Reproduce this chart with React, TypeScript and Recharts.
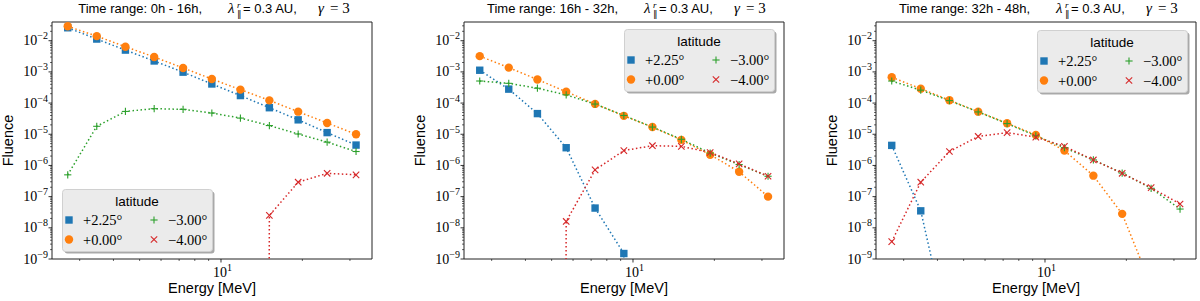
import React from 'react';
import { LineChart, Line, XAxis, YAxis, ReferenceArea } from 'recharts';

// energy bins [MeV], shared by the three panels
const energy = [2.71, 3.47, 4.43, 5.66, 7.24, 9.25, 11.8, 15.1, 19.3, 24.7, 31.6];

// 0h - 16h
const a225 = [2.6e-2, 1.13e-2, 5.0e-3, 2.24e-3, 9.8e-4, 4.1e-4, 1.74e-4, 7.1e-5, 2.9e-5, 1.13e-5, 4.5e-6];
const a000 = [2.9e-2, 1.4e-2, 6.4e-3, 3.0e-3, 1.34e-3, 5.9e-4, 2.7e-4, 1.22e-4, 5.3e-5, 2.3e-5, 1.0e-5];
const am300 = [5.0e-7, 1.8e-5, 5.4e-5, 6.6e-5, 6.3e-5, 4.8e-5, 3.3e-5, 1.9e-5, 1.02e-5, 5.6e-6, 2.8e-6];
const am400 = [0, 0, 0, 0, 0, 0, 0, 2.5e-8, 2.9e-7, 5.6e-7, 5.0e-7];

// 16h - 32h
const b225 = [1.13e-3, 2.8e-4, 4.6e-5, 3.7e-6, 4.3e-8, 1.5e-9, 0, 0, 0, 0, 0];
const b000 = [3.2e-3, 1.37e-3, 5.7e-4, 2.3e-4, 9.4e-5, 3.9e-5, 1.7e-5, 6.6e-6, 2.2e-6, 6.3e-7, 1.0e-7];
const bm300 = [5.1e-4, 4.3e-4, 3.0e-4, 1.83e-4, 9.3e-5, 4.0e-5, 1.7e-5, 6.9e-6, 2.5e-6, 1.07e-6, 4.5e-7];
const bm400 = [0, 0, 0, 1.6e-8, 7.2e-7, 3.0e-6, 4.3e-6, 4.1e-6, 2.6e-6, 1.12e-6, 4.5e-7];

// 32h - 48h
const c225 = [4.4e-6, 3.5e-8, 3e-12, 0, 0, 0, 0, 0, 0, 0, 0];
const c000 = [6.7e-4, 2.9e-4, 1.23e-4, 5.3e-5, 2.25e-5, 9.5e-6, 3.0e-6, 4.7e-7, 2.8e-8, 1.4e-10, 2e-13];
const cm300 = [5.1e-4, 2.6e-4, 1.2e-4, 5.2e-5, 2.2e-5, 8.9e-6, 3.7e-6, 1.5e-6, 5.7e-7, 1.85e-7, 4.0e-8];
const cm400 = [3.6e-9, 2.9e-7, 2.8e-6, 8.5e-6, 1.13e-5, 8.1e-6, 4.1e-6, 1.5e-6, 5.6e-7, 1.95e-7, 5.8e-8];

const titles = ['0h - 16h', '16h - 32h', '32h - 48h'];
const seriesLabels = ['+2.25°', '+0.00°', '\u22123.00°', '\u22124.00°'];
const seriesKeys = ['p225', 'p000', 'm300', 'm400'];
const seriesColors = ['#1f77b4', '#ff7f0e', '#2ca02c', '#d62728'];
const seriesShapes = ['square', 'circle', 'plus', 'cross'];

const xTicks = [3, 4, 5, 6, 7, 8, 9, 10, 20, 30];
const yDecades = [-9, -8, -7, -6, -5, -4, -3, -2];
const minorSteps = [2, 3, 4, 5, 6, 7, 8, 9];

const X_DOMAIN: [number, number] = [2.37, 36.2];
const Y_DOMAIN: [number, number] = [1e-9, 0.0398];
// log axis: zeros are clipped to a tiny positive value, as matplotlib does
const FLOOR = 1e-300;

const yTicks: number[] = [];
yDecades.forEach((d) => {
  yTicks.push(Math.pow(10, d));
  minorSteps.forEach((m) => {
    const v = m * Math.pow(10, d);
    if (v < Y_DOMAIN[1]) yTicks.push(v);
  });
});

const SANS = '"Liberation Sans", Arial, sans-serif';
const SERIF = '"Liberation Serif", "Times New Roman", serif';

const buildRows = (s: number[][]) =>
  energy.map((e, i) => {
    const row: any = { e };
    seriesKeys.forEach((k, j) => {
      row[k] = s[j][i] > 0 ? s[j][i] : FLOOR;
    });
    return row;
  });

const panels = [
  { left: 0, width: 412, rows: buildRows([a225, a000, am300, am400]), legend: { x: 62, y: 189 }, shift: -10 },
  { left: 412, width: 412, rows: buildRows([b225, b000, bm300, bm400]), legend: { x: 212, y: 29 }, shift: -6 },
  { left: 824, width: 376, rows: buildRows([c225, c000, cm300, cm400]), legend: { x: 213, y: 30 }, shift: -6 },
];

const PLOT_LEFT = 52;
const PLOT_W = 320;
const PLOT_TOP = 22;
const PLOT_BOTTOM = 259;

const Marker = ({ shape, color, cx, cy }: any) => {
  if (shape === 'square') return <rect x={cx - 3.7} y={cy - 3.7} width={7.4} height={7.4} fill={color} />;
  if (shape === 'circle') return <circle cx={cx} cy={cy} r={4.2} fill={color} />;
  if (shape === 'plus')
    return (
      <g stroke={color} strokeWidth={1.1}>
        <line x1={cx - 3.6} x2={cx + 3.6} y1={cy} y2={cy} />
        <line x1={cx} x2={cx} y1={cy - 3.6} y2={cy + 3.6} />
      </g>
    );
  return (
    <g stroke={color} strokeWidth={1.1}>
      <line x1={cx - 3.2} x2={cx + 3.2} y1={cy - 3.2} y2={cy + 3.2} />
      <line x1={cx - 3.2} x2={cx + 3.2} y1={cy + 3.2} y2={cy - 3.2} />
    </g>
  );
};

const isMajor = (v: number) => {
  const exp = Math.round(Math.log10(v));
  return Math.abs(v - Math.pow(10, exp)) < v * 1e-6;
};

const XTick = (props: any) => {
  const { x, y, payload } = props;
  const major = isMajor(payload.value);
  const exp = Math.round(Math.log10(payload.value));
  return (
    <g>
      <line x1={x} x2={x} y1={y} y2={y + (major ? 3.5 : 2)} stroke="#000" strokeWidth={major ? 0.8 : 0.6} />
      {major && (
        <text x={x + 1.5} y={y + 17.5} textAnchor="middle" fontFamily={SERIF} fontSize={14} fill="#000">
          10<tspan dy={-6} fontSize={10}>{exp}</tspan>
        </text>
      )}
    </g>
  );
};

const YTick = (props: any) => {
  const { x, y, payload } = props;
  const major = isMajor(payload.value);
  const exp = Math.round(Math.log10(payload.value));
  return (
    <g>
      <line x1={x} x2={x - (major ? 3.5 : 2)} y1={y} y2={y} stroke="#000" strokeWidth={major ? 0.8 : 0.6} />
      {major && (
        <text x={x - 4} y={y + 4.5} textAnchor="end" fontFamily={SERIF} fontSize={14} fill="#000">
          10<tspan dy={-6} fontSize={10}>{'\u2212' + -exp}</tspan>
        </text>
      )}
    </g>
  );
};

const Legend = ({ x, y }: { x: number; y: number }) => {
  const cols = [
    [0, 1],
    [2, 3],
  ];
  return (
    <svg style={{ position: 'absolute', left: x, top: y, overflow: 'visible' }} width={156} height={66}>
      <rect x={2.5} y={2.5} width={150} height={62} rx={3} fill="#a9a9a9" />
      <rect x={0.5} y={0.5} width={150} height={62} rx={3} fill="#ebebeb" stroke="#d0d0d0" />
      <text x={75} y={17} textAnchor="middle" fontFamily={SANS} fontSize={13.5} fill="#000">
        latitude
      </text>
      {cols.map((col, ci) =>
        col.map((si, ri) => {
          const mx = ci === 0 ? 7 : 92;
          const my = 31 + ri * 19.5;
          return (
            <g key={si}>
              <Marker shape={seriesShapes[si]} color={seriesColors[si]} cx={mx} cy={my} />
              <text x={mx + 14} y={my + 5} fontFamily={SERIF} fontSize={14.5} fill="#000">
                {seriesLabels[si]}
              </text>
            </g>
          );
        })
      )}
    </svg>
  );
};

const Title = ({ cx, shift, range }: { cx: number; shift: number; range: string }) => {
  const lx = cx + shift + 26;
  return (
    <g fill="#000">
      <text x={cx + shift} y={13} textAnchor="end" fontFamily={SANS} fontSize={13}>
        {'Time range: ' + range + ','}
      </text>
      <text x={lx} y={13} fontFamily={SERIF} fontStyle="italic" fontSize={15}>
        λ
      </text>
      <text x={lx + 9} y={8} fontFamily={SERIF} fontStyle="italic" fontSize={9}>
        r
      </text>
      <text x={lx + 8.5} y={17} fontFamily={SERIF} fontSize={9}>
        ∥
      </text>
      <text x={lx + 15} y={13} fontFamily={SANS} fontSize={13}>
        = 0.3 AU,
      </text>
      <text x={lx + 90} y={13} fontFamily={SERIF} fontStyle="italic" fontSize={15}>
        γ
      </text>
      <text x={lx + 102} y={13} fontFamily={SERIF} fontSize={15}>
        = 3
      </text>
    </g>
  );
};

const Panel = ({ idx }: { idx: number }) => {
  const p = panels[idx];
  const cx = PLOT_LEFT + PLOT_W / 2;
  return (
    <div style={{ position: 'absolute', left: p.left, top: 0, width: p.width, height: 301 }}>
      <LineChart
        width={p.width}
        height={301}
        data={p.rows}
        margin={{ top: PLOT_TOP, right: p.width - PLOT_LEFT - PLOT_W, bottom: 0, left: 0 }}
      >
        <XAxis
          dataKey="e"
          type="number"
          scale="log"
          domain={X_DOMAIN}
          allowDataOverflow
          ticks={xTicks}
          interval={0}
          tick={(t: any) => <XTick {...t} />}
          tickLine={false}
          axisLine={false}
          tickSize={0}
          tickMargin={0}
          height={301 - PLOT_BOTTOM}
        />
        <YAxis
          type="number"
          scale="log"
          domain={Y_DOMAIN}
          allowDataOverflow
          ticks={yTicks}
          interval={0}
          tick={(t: any) => <YTick {...t} />}
          tickLine={false}
          axisLine={false}
          tickSize={0}
          tickMargin={0}
          width={PLOT_LEFT}
        />
        {seriesKeys.map((k, si) => (
          <Line
            key={k}
            dataKey={k}
            type="linear"
            stroke={seriesColors[si]}
            strokeWidth={1.5}
            strokeDasharray="1.5 2.5"
            isAnimationActive={false}
            activeDot={false}
            dot={(d: any) =>
              Number.isFinite(d.cy) && d.cy < 1000 ? (
                <Marker key={d.index} shape={seriesShapes[si]} color={seriesColors[si]} cx={d.cx} cy={d.cy} />
              ) : (
                <g key={d.index} />
              )
            }
          />
        ))}
        <ReferenceArea
          x1={X_DOMAIN[0]}
          x2={X_DOMAIN[1]}
          y1={Y_DOMAIN[0]}
          y2={Y_DOMAIN[1]}
          fill="none"
          fillOpacity={0}
          stroke="#222"
          strokeWidth={1}
          ifOverflow="visible"
        />
      </LineChart>
      <svg
        style={{ position: 'absolute', left: 0, top: 0, pointerEvents: 'none', overflow: 'visible' }}
        width={p.width}
        height={301}
      >
        <Title cx={cx} shift={p.shift} range={titles[idx]} />
        <text x={cx} y={293} textAnchor="middle" fontFamily={SANS} fontSize={14.5} fill="#000">
          Energy [MeV]
        </text>
        <text
          x={0}
          y={0}
          transform={`translate(13, ${(PLOT_TOP + PLOT_BOTTOM) / 2}) rotate(-90)`}
          textAnchor="middle"
          fontFamily={SANS}
          fontSize={14.5}
          fill="#000"
        >
          Fluence
        </text>
      </svg>
      <Legend x={p.legend.x} y={p.legend.y} />
    </div>
  );
};

export default function App() {
  return (
    <div style={{ position: 'absolute', left: 0, top: 0, width: 1200, height: 301, background: '#fff' }}>
      {panels.map((_, i) => (
        <Panel key={i} idx={i} />
      ))}
    </div>
  );
}
